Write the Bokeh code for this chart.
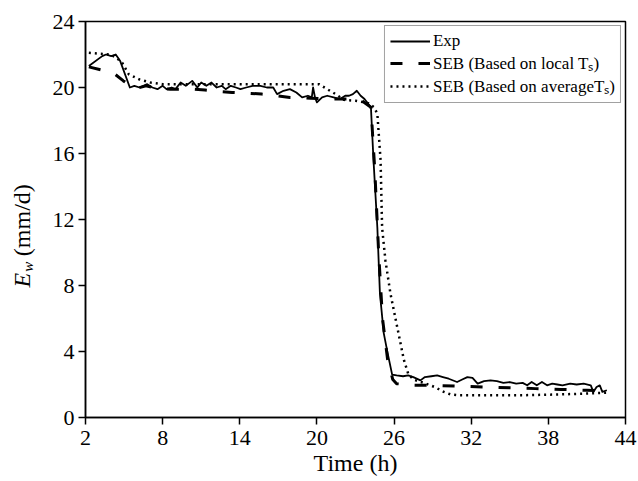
import math
from bokeh.plotting import figure
from bokeh.layouts import row
from bokeh.models import Range1d, FixedTicker, Legend, LegendItem, Label
from bokeh.embed import file_html
from bokeh.resources import INLINE

# ---------------- data ----------------
exp_x = [2.26, 3.3, 3.6, 4.0, 4.35, 4.7, 5.45, 5.8, 6.2, 6.8, 7.2, 7.6, 8.0, 8.3, 8.7, 9.0,
         9.4, 9.8, 10.3, 10.7, 11.0, 11.4, 11.8, 12.2, 12.6, 12.9, 13.3, 13.7, 14.05, 14.5,
         15.0, 15.6, 16.1, 16.6, 16.9, 17.4, 17.9, 18.4, 18.85, 19.3, 19.6, 19.7, 19.85, 20.0,
         20.4, 20.8, 21.3, 21.8, 22.2, 22.5, 22.8, 23.1, 23.4, 23.7, 24.0, 24.2, 24.4, 24.7,
         24.9, 25.2, 25.5, 25.85, 26.2, 26.7, 27.1, 27.5, 28.05, 28.4, 28.9, 29.35, 29.8,
         30.25, 30.9, 31.3, 31.7, 32.1, 32.5, 33.0, 33.5, 34.0, 34.5, 35.0, 35.5, 36.0, 36.35,
         36.7, 37.1, 37.5, 37.9, 38.3, 38.7, 39.1, 39.7, 40.2, 40.75, 41.3, 41.5, 41.75, 42.0,
         42.2, 42.55]
exp_y = [21.3, 21.9, 22.0, 21.9, 22.0, 21.6, 20.0, 20.1, 20.0, 20.2, 20.0, 19.9, 20.1, 19.9,
         20.0, 19.9, 20.3, 20.1, 20.4, 20.0, 20.3, 20.1, 20.3, 20.0, 20.1, 19.9, 20.1, 20.0,
         19.9, 20.0, 20.1, 20.1, 20.0, 20.0, 19.6, 19.8, 19.9, 19.7, 19.4, 19.5, 19.4, 20.0,
         19.4, 19.1, 19.4, 19.5, 19.4, 19.3, 19.5, 19.5, 19.6, 19.8, 19.5, 19.3, 19.0, 18.8,
         15.6, 11.5, 7.5, 5.1, 3.9, 2.6, 2.55, 2.5, 2.55, 2.45, 2.25, 2.45, 2.5, 2.55, 2.45,
         2.35, 2.15, 2.3, 2.45, 2.4, 2.05, 2.2, 2.25, 2.2, 2.1, 2.15, 2.05, 2.1, 1.95, 2.15,
         1.95, 2.15, 1.95, 2.05, 2.0, 1.95, 2.05, 2.0, 2.05, 1.95, 1.55, 1.85, 1.95, 1.55, 1.65]

local_x = [2.26, 3.3, 4.3, 4.95, 5.5, 6.0, 6.7, 7.6, 8.6, 10.4, 11.3, 12.5, 13.4, 14.7, 15.7,
           16.9, 17.9, 19.5, 21.0, 22.5, 23.5, 24.2, 24.5, 24.8, 25.1, 25.5, 25.9, 26.2, 27.5,
           29.0, 31.0, 33.0, 35.0, 37.0, 39.0, 41.0, 42.5]
local_y = [21.25, 21.05, 20.8, 20.4, 20.1, 19.95, 20.1, 19.95, 19.9, 19.9, 19.85, 19.75, 19.7,
           19.65, 19.6, 19.5, 19.4, 19.35, 19.3, 19.3, 19.2, 18.8, 15.0, 10.0, 6.0, 3.5, 2.3,
           2.05, 1.95, 1.95, 1.9, 1.85, 1.8, 1.75, 1.7, 1.65, 1.6]

avg_x = [2.26, 3.0, 3.95, 4.4, 4.85, 5.37, 6.15, 7.05, 8.0, 10.0, 12.0, 14.0, 16.0, 18.0, 20.15,
         20.8, 21.45, 22.1, 23.0, 24.0, 24.45, 24.7, 24.95, 25.07, 25.33, 25.72, 26.24, 26.76,
         27.1, 27.5, 28.5, 29.3, 29.7, 30.4, 31.0, 33.0, 36.0, 39.0, 41.0, 42.5]
avg_y = [22.1, 22.05, 22.0, 21.8, 21.5, 20.8, 20.5, 20.3, 20.2, 20.2, 20.2, 20.2, 20.2, 20.2,
         20.2, 19.9, 19.6, 19.25, 19.2, 19.05, 18.8, 18.4, 15.6, 11.5, 9.5, 7.5, 5.5, 3.5,
         2.65, 2.3, 2.05, 1.8, 1.6, 1.4, 1.35, 1.35, 1.35, 1.4, 1.45, 1.5]

x_ticks = [2, 8, 14, 20, 26, 32, 38, 44]
y_ticks = [0, 4, 8, 12, 16, 20, 24]
x_label = "Time (h)"
y_label_parts = ["E", "w", "(mm/d)"]
legend_labels = ["Exp", "SEB (Based on local T\u209b)", "SEB (Based on averageT\u209b)"]

# ---------------- layout ----------------
FONT = "Liberation Serif"
W, H = 638, 481
LW = 45                      # width of the strip that carries the y-axis title
FL, FR, FT, FB = 85, 625, 21, 417  # frame edges (pixels in the whole page)

# strip with the rotated y-axis title (no axes, frame = whole strip)
lab = figure(width=LW, height=H, output_backend="svg", toolbar_location=None,
             x_range=Range1d(0, LW), y_range=Range1d(0, H),
             x_axis_location=None, y_axis_location=None,
             min_border=0, min_border_left=0, min_border_right=0,
             min_border_top=0, min_border_bottom=0)
lab.grid.visible = False
lab.outline_line_color = None
lab.background_fill_color = "white"
lab.border_fill_color = "white"

rot = math.pi / 2
lab.add_layout(Label(x=21, y=H - 323, text=y_label_parts[0], angle=rot,
                     text_font=FONT, text_font_size="24px", text_font_style="italic",
                     text_align="left", text_baseline="alphabetic", text_color="black"))
lab.add_layout(Label(x=27, y=H - 304, text=y_label_parts[1], angle=rot,
                     text_font=FONT, text_font_size="15px", text_font_style="italic",
                     text_align="left", text_baseline="alphabetic", text_color="black"))
lab.add_layout(Label(x=21, y=H - 285, text=y_label_parts[2], angle=rot,
                     text_font=FONT, text_font_size="24px", text_font_style="normal",
                     text_align="left", text_baseline="alphabetic", text_color="black"))

# main chart
p = figure(width=W - LW, height=H, output_backend="svg", toolbar_location=None,
           x_range=Range1d(2, 44), y_range=Range1d(0, 24),
           min_border_left=FL - LW, min_border_right=W - FR,
           min_border_top=FT, min_border_bottom=H - FB)
p.background_fill_color = "white"
p.border_fill_color = "white"
p.outline_line_color = "black"
p.outline_line_width = 1.5
p.xgrid.visible = False
p.ygrid.visible = False

for ax in (p.xaxis[0], p.yaxis[0]):
    ax.axis_line_width = 1.5
    ax.axis_line_color = "black"
    ax.major_tick_line_width = 1.5
    ax.major_tick_line_color = "black"
    ax.major_tick_out = 7
    ax.major_tick_in = 0
    ax.minor_tick_line_color = None
    ax.major_label_text_font = FONT
    ax.major_label_text_font_size = "22px"
    ax.major_label_text_color = "black"
    ax.major_label_standoff = 4

p.xaxis.major_label_standoff = 6
p.xaxis.ticker = FixedTicker(ticks=x_ticks)
p.yaxis.ticker = FixedTicker(ticks=y_ticks)
p.xaxis.axis_label = x_label
p.xaxis.axis_label_text_font = FONT
p.xaxis.axis_label_text_font_size = "24px"
p.xaxis.axis_label_text_font_style = "normal"
p.xaxis.axis_label_text_color = "black"
p.xaxis.axis_label_standoff = 2

r_exp = p.line(exp_x, exp_y, line_color="black", line_width=1.8, line_join="round")
r_loc = p.line(local_x, local_y, line_color="black", line_width=3, line_dash="12 16")
r_avg = p.line(avg_x, avg_y, line_color="black", line_width=2.5, line_dash="2 4")

legend = Legend(items=[LegendItem(label=legend_labels[0], renderers=[r_exp]),
                       LegendItem(label=legend_labels[1], renderers=[r_loc]),
                       LegendItem(label=legend_labels[2], renderers=[r_avg])],
                location="top_right", margin=4, padding=5, spacing=0,
                glyph_width=40, glyph_height=18, label_height=18, label_standoff=3,
                label_text_font=FONT, label_text_font_size="17px",
                label_text_color="black",
                border_line_color="#444444", border_line_width=1.5,
                background_fill_alpha=1.0)
p.add_layout(legend, "center")

page = row(lab, p, spacing=0)
open("out.html", "w").write(file_html(page, INLINE))
